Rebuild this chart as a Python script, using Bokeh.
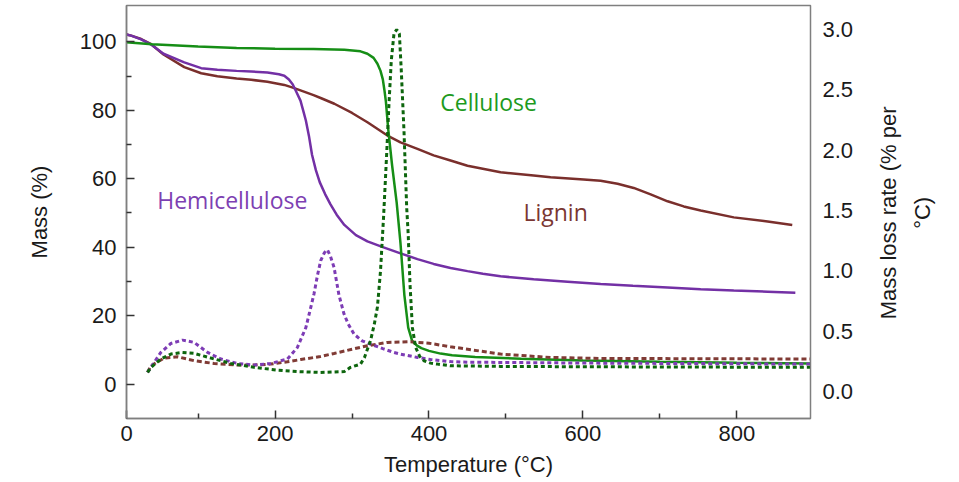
import math
from bokeh.plotting import figure
from bokeh.layouts import row
from bokeh.models import Range1d, LinearAxis, FixedTicker, Label, PrintfTickFormatter
from bokeh.embed import file_html
from bokeh.resources import INLINE
from bokeh.core.properties import value

# ---------------- data ----------------
# Mass curves (left axis, %)
cel_T = [0, 40, 100, 150, 200, 250, 290, 311, 320, 328, 333, 337, 340, 342, 344, 347, 352,
         358, 363, 368, 373, 378, 384, 390, 400, 415, 430, 460, 520, 600, 700, 800, 895]
cel_mass = [100, 99.3, 98.6, 98.2, 98.0, 97.9, 97.7, 97.2, 96.5, 95.3, 93.6, 91.5, 89, 86, 82.5,
            74.5, 64, 53, 41, 26, 16.5, 12.7, 11.3, 10.5, 9.7, 8.9, 8.4, 7.9, 7.4, 6.9, 6.5, 6.2, 6.0]

hem_T = [0, 13, 26, 39, 55, 82, 104, 125, 150, 169, 190, 205, 212, 218, 223, 228, 233, 237, 240,
         244, 248, 253, 258, 265, 272, 280, 290, 305, 320, 340, 363, 385, 406, 428, 450, 470, 493,
         536, 580, 623, 665, 710, 753, 796, 840, 876]
hem_mass = [102.5, 101.8, 100.7, 99.2, 96.5, 94, 92.3, 91.8, 91.5, 91.3, 91.0, 90.5, 90.1, 89,
            87.5, 85.2, 82.8, 79.5, 77, 72.5, 67, 62.5, 59, 55.5, 52.5, 49.5, 46.5, 43.5, 41.7,
            40, 38.2, 36.5, 35.1, 33.9, 33.0, 32.2, 31.5, 30.6, 29.9, 29.2, 28.7, 28.2, 27.7,
            27.3, 27.0, 26.7]

lig_T = [0, 13, 26, 39, 55, 82, 104, 125, 150, 169, 190, 212, 223, 233, 250, 260, 277, 300, 320,
         346, 363, 385, 406, 428, 450, 493, 536, 558, 601, 623, 645, 666, 688, 710, 731, 753, 796,
         840, 872]
lig_mass = [102.5, 101.8, 100.8, 99.3, 96.3, 92.6, 90.8, 89.9, 89.3, 88.9, 88.3, 87.4, 86.6, 85.8,
            84.4, 83.5, 81.9, 79.2, 76.5, 72.6, 70.6, 68.7, 66.8, 65.3, 63.8, 61.9, 60.9, 60.4,
            59.8, 59.4, 58.5, 57.3, 55.4, 53.4, 51.9, 50.7, 48.7, 47.5, 46.5]

# Mass loss rate curves (right axis, % per °C)
cel_rT = [34.3, 38.6, 51.6, 64.6, 79.7, 94.8, 116.5, 142.5, 172.7, 203, 230, 259, 290, 298, 311,
          316, 324, 329, 333, 337, 341, 345, 348, 351, 354.5, 358, 361.5, 364, 367.5, 371, 373,
          375.3, 378.4, 382.7, 388, 393.5, 402, 411, 428, 493, 600, 895]
cel_rate = [0.158, 0.199, 0.269, 0.31, 0.324, 0.316, 0.277, 0.233, 0.2, 0.177, 0.165, 0.158, 0.165,
            0.2, 0.227, 0.28, 0.42, 0.56, 0.70, 1.0, 1.45, 1.97, 2.385, 2.744, 2.966, 3.0, 2.966,
            2.66, 2.16, 1.527, 1.3, 0.891, 0.531, 0.365, 0.29, 0.255, 0.235, 0.227, 0.213, 0.208,
            0.205, 0.2]

hem_rT = [34.3, 42.8, 51.6, 64.6, 79.7, 94.8, 112.2, 129.5, 151.2, 172.7, 194.4, 216, 229, 240,
          245, 250.6, 255, 259.3, 264, 268, 272, 276.6, 283, 289.6, 295, 302.6, 313, 324, 340,
          354.5, 363, 385, 402, 428, 450, 550, 623, 895]
hem_rate = [0.158, 0.24, 0.324, 0.398, 0.426, 0.407, 0.324, 0.269, 0.232, 0.219, 0.232, 0.269,
            0.365, 0.53, 0.66, 0.81, 0.96, 1.085, 1.15, 1.175, 1.12, 1.03, 0.80, 0.642, 0.56,
            0.476, 0.42, 0.393, 0.355, 0.324, 0.31, 0.282, 0.265, 0.248, 0.243, 0.238, 0.235, 0.227]

lig_rT = [34.3, 38.6, 55.8, 73, 94.8, 120.8, 151, 172.7, 194.4, 216, 233.4, 259, 276.6, 300, 320,
          346, 376, 400, 428, 493, 558, 623, 895]
lig_rate = [0.158, 0.213, 0.277, 0.288, 0.255, 0.232, 0.219, 0.219, 0.227, 0.246, 0.265, 0.29,
            0.315, 0.35, 0.379, 0.407, 0.412, 0.4, 0.371, 0.31, 0.282, 0.274, 0.269]

x_ticks = [7, 200, 400, 600, 800]
x_tick_labels = {7: "0"}
x_minor = [100, 300, 500, 700]
y_ticks = [0, 20, 40, 60, 80, 100]
y_minor = [10, 30, 50, 70, 90]
r_ticks = [0.0, 0.5, 1.0, 1.5, 2.0, 2.5, 3.0]
right_title = ["Mass loss rate (% per", "°C)"]

# ---------------- styling ----------------
GREEN = "#168E16"
GREEN_D = "#0D650D"
PURPLE = "#7330A5"
PURPLE_D = "#7D3CB5"
BROWN = "#7A2F2C"
BROWN_D = "#803B35"
FRAME = "#7f7f7f"
TXT = "#1a1a1a"
FONT = "Liberation Sans"

H = 481
W_MAIN = 862          # frame right edge at x=810, then right tick labels
W_SIDE = 95           # narrow panel holding the two-line right-axis title

p = figure(width=W_MAIN, height=H, output_backend="svg", toolbar_location=None,
           x_range=Range1d(6.95, 895.7), y_range=Range1d(-10.06, 110.6),
           min_border_left=126, min_border_right=W_MAIN - 810, min_border_top=5,
           min_border_bottom=H - 418)
p.extra_y_ranges = {"rate": Range1d(-0.224, 3.20)}
p.grid.visible = False
p.outline_line_color = FRAME
p.outline_line_width = 1.5
p.background_fill_color = "white"
p.border_fill_color = "white"


def style_axis(ax):
    ax.axis_line_color = FRAME
    ax.axis_line_width = 1.5
    ax.major_tick_in = 8
    ax.major_tick_out = 0
    ax.minor_tick_in = 5
    ax.minor_tick_out = 0
    ax.major_tick_line_color = "#333333"
    ax.minor_tick_line_color = "#333333"
    ax.major_tick_line_width = 1.5
    ax.minor_tick_line_width = 1.5
    ax.major_label_text_font = FONT
    ax.major_label_text_font_size = "22px"
    ax.major_label_text_color = TXT
    ax.axis_label_text_font = FONT
    ax.axis_label_text_font_size = "22px"
    ax.axis_label_text_font_style = "normal"
    ax.axis_label_text_color = TXT


xa = p.xaxis[0]
style_axis(xa)
xa.ticker = FixedTicker(ticks=x_ticks, minor_ticks=x_minor)
xa.major_label_overrides = x_tick_labels
xa.axis_label = "Temperature (°C)"
xa.major_label_standoff = 7
xa.axis_label_standoff = 8

ya = p.yaxis[0]
style_axis(ya)
ya.ticker = FixedTicker(ticks=y_ticks, minor_ticks=y_minor)
ya.axis_label = "Mass (%)"
ya.major_label_standoff = 10
ya.axis_label_standoff = 25

ra = LinearAxis(y_range_name="rate",
                ticker=FixedTicker(ticks=r_ticks, minor_ticks=[]),
                formatter=PrintfTickFormatter(format="%.1f"))
style_axis(ra)
ra.major_tick_line_color = None
ra.minor_tick_line_color = None
ra.axis_line_color = None
ra.major_label_standoff = 12
p.add_layout(ra, "right")

# solid mass curves
p.line(lig_T, lig_mass, line_color=BROWN, line_width=2.5)
p.line(hem_T, hem_mass, line_color=PURPLE, line_width=2.5)
p.line(cel_T, cel_mass, line_color=GREEN, line_width=2.5)

# dotted rate curves
p.line(lig_rT, lig_rate, y_range_name="rate", line_color=BROWN_D, line_width=3, line_dash="5 3")
p.line(hem_rT, hem_rate, y_range_name="rate", line_color=PURPLE_D, line_width=3, line_dash="4 3")
p.line(cel_rT, cel_rate, y_range_name="rate", line_color=GREEN_D, line_width=3, line_dash="4 3")

# curve labels
for txt, x, y, c in [("Cellulose", 477.5, 82.3, "#1D9A1D"),
                     ("Hemicellulose", 144.4, 53.9, "#7D3FB2"),
                     ("Lignin", 564.5, 50.2, "#7A3632")]:
    p.add_layout(Label(x=x, y=y, text=txt, text_align="center", text_baseline="middle",
                       text_font="Open Sans", text_font_size="23px", text_color=c))

# side panel: right-axis title, two lines reading bottom-to-top
s = figure(width=W_SIDE, height=H, output_backend="svg", toolbar_location=None,
           x_range=Range1d(0, W_SIDE), y_range=Range1d(0, H),
           min_border_left=0, min_border_right=0, min_border_top=0, min_border_bottom=0)
s.axis.visible = False
s.grid.visible = False
s.outline_line_color = None
s.background_fill_color = "white"
s.border_fill_color = "white"
s.text(x=[888 - W_MAIN, 922 - W_MAIN], y=[H - 241.5, H - 241.5], text=right_title,
       angle=math.pi / 2, text_align="center", text_baseline="middle",
       text_font=value(FONT), text_font_size="22px", text_color=TXT)

layout = row(p, s)
open("out.html", "w").write(file_html(layout, INLINE))
